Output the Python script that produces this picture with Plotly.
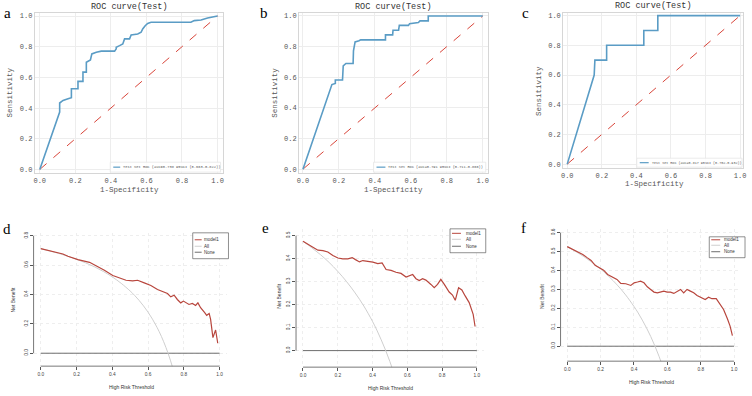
import plotly.graph_objects as go

# ---------------- data ----------------
tick_vals = [0.0, 0.2, 0.4, 0.6, 0.8, 1.0]
tick_text = ["0.0", "0.2", "0.4", "0.6", "0.8", "1.0"]

roc_a_fpr = [0, 0.112, 0.112, 0.131, 0.159, 0.178, 0.178, 0.215, 0.215, 0.243,
             0.243, 0.262, 0.262, 0.280, 0.285, 0.293, 0.318, 0.346, 0.421, 0.430,
             0.430, 0.449, 0.467, 0.477, 0.505, 0.514, 0.551, 0.570, 0.579, 0.593,
             0.607, 0.626, 0.850, 0.869, 0.907, 0.944, 0.972, 1.0]
roc_a_tpr = [0, 0.374, 0.433, 0.450, 0.461, 0.468, 0.526, 0.526, 0.574, 0.574,
             0.634, 0.634, 0.699, 0.714, 0.714, 0.753, 0.764, 0.771, 0.771, 0.786,
             0.797, 0.807, 0.818, 0.851, 0.851, 0.877, 0.883, 0.894, 0.916, 0.937,
             0.952, 0.959, 0.959, 0.970, 0.974, 0.987, 0.996, 1.0]
roc_b_fpr = [0, 0.156, 0.161, 0.180, 0.180, 0.220, 0.224, 0.239, 0.279, 0.281,
             0.290, 0.312, 0.321, 0.459, 0.459, 0.499, 0.501, 0.532, 0.536, 0.587,
             0.593, 0.642, 0.651, 0.697, 0.697, 1.0]
roc_b_tpr = [0, 0.535, 0.552, 0.560, 0.582, 0.582, 0.675, 0.690, 0.690, 0.773,
             0.831, 0.838, 0.844, 0.844, 0.877, 0.877, 0.907, 0.907, 0.939, 0.939,
             0.950, 0.957, 0.968, 0.968, 1.0, 1.0]
roc_c_fpr = [0, 0.156, 0.160, 0.228, 0.228, 0.443, 0.443, 0.524, 0.524, 1.0]
roc_c_tpr = [0, 0.600, 0.700, 0.700, 0.800, 0.800, 0.900, 0.900, 1.0, 1.0]
diag = [0.0, 1.0]

roc_labels = ["Test Set ROC (auc=0.738 95%CI (0.663-0.822))",
              "Test Set ROC (auc=0.791 95%CI (0.711-0.866))",
              "Test Set ROC (auc=0.817 95%CI (0.702-0.932))"]

d_thr = [0, 0.059, 0.124, 0.152, 0.208, 0.273, 0.319, 0.356, 0.403, 0.440,
         0.477, 0.514, 0.542, 0.579, 0.616, 0.653, 0.681, 0.709, 0.727, 0.746,
         0.764, 0.783, 0.798, 0.811, 0.829, 0.848, 0.866, 0.879, 0.894, 0.917,
         0.928, 0.942, 0.950, 0.963, 0.978, 0.99]
d_model = [0.712, 0.694, 0.676, 0.660, 0.637, 0.619, 0.592, 0.565, 0.529, 0.513,
           0.497, 0.493, 0.497, 0.479, 0.461, 0.434, 0.420, 0.407, 0.384, 0.395,
           0.366, 0.343, 0.355, 0.343, 0.332, 0.339, 0.325, 0.343, 0.310, 0.276,
           0.258, 0.271, 0.230, 0.106, 0.158, 0.068]
d_all_thr = [0, 0.05, 0.1, 0.15, 0.2, 0.25, 0.3, 0.35, 0.4, 0.45, 0.5, 0.525,
             0.55, 0.575, 0.6, 0.625, 0.65, 0.675, 0.7, 0.725, 0.75]
d_all = [0.712, 0.697, 0.680, 0.661, 0.640, 0.616, 0.589, 0.557, 0.520, 0.476,
         0.424, 0.394, 0.360, 0.322, 0.280, 0.232, 0.177, 0.114, 0.040, -0.047, -0.152]

e_thr = [0, 0.029, 0.057, 0.086, 0.115, 0.143, 0.172, 0.201, 0.229, 0.258,
         0.283, 0.302, 0.325, 0.344, 0.373, 0.402, 0.430, 0.455, 0.478, 0.507,
         0.535, 0.564, 0.593, 0.612, 0.631, 0.650, 0.669, 0.688, 0.707, 0.736,
         0.755, 0.774, 0.793, 0.813, 0.841, 0.860, 0.876, 0.895, 0.914, 0.933,
         0.956, 0.979, 0.99]
e_model = [0.476, 0.461, 0.450, 0.437, 0.435, 0.429, 0.414, 0.403, 0.399, 0.399,
           0.405, 0.396, 0.386, 0.392, 0.389, 0.385, 0.379, 0.382, 0.353, 0.349,
           0.341, 0.336, 0.320, 0.324, 0.331, 0.313, 0.305, 0.313, 0.307, 0.288,
           0.274, 0.288, 0.310, 0.288, 0.255, 0.242, 0.219, 0.274, 0.264, 0.238,
           0.209, 0.158, 0.105]
e_all_thr = [0, 0.05, 0.1, 0.15, 0.2, 0.25, 0.3, 0.35, 0.4, 0.425, 0.45, 0.475, 0.5, 0.525]
e_all = [0.476, 0.448, 0.418, 0.384, 0.345, 0.301, 0.251, 0.194, 0.127, 0.089,
         0.047, 0.002, -0.048, -0.103]

f_thr = [0, 0.034, 0.063, 0.093, 0.119, 0.143, 0.167, 0.192, 0.218, 0.242,
         0.272, 0.298, 0.321, 0.351, 0.381, 0.401, 0.421, 0.440, 0.460, 0.480,
         0.500, 0.520, 0.540, 0.560, 0.579, 0.599, 0.619, 0.639, 0.659, 0.679,
         0.698, 0.718, 0.738, 0.758, 0.778, 0.808, 0.827, 0.847, 0.867, 0.893,
         0.917, 0.937, 0.960, 0.976, 0.99]
f_model = [0.526, 0.512, 0.498, 0.485, 0.468, 0.453, 0.427, 0.415, 0.402, 0.379,
           0.365, 0.353, 0.332, 0.330, 0.321, 0.335, 0.339, 0.344, 0.335, 0.314,
           0.300, 0.286, 0.282, 0.286, 0.291, 0.286, 0.286, 0.279, 0.291, 0.300,
           0.282, 0.300, 0.291, 0.282, 0.268, 0.256, 0.247, 0.259, 0.251, 0.251,
           0.221, 0.194, 0.145, 0.106, 0.056]
f_all_thr = [0, 0.05, 0.1, 0.15, 0.2, 0.25, 0.3, 0.35, 0.4, 0.425, 0.45, 0.475,
             0.5, 0.525, 0.55, 0.575]
f_all = [0.526, 0.501, 0.473, 0.442, 0.408, 0.368, 0.323, 0.271, 0.210, 0.176,
         0.138, 0.097, 0.052, 0.002, -0.053, -0.115]

none_thr = [0.0, 1.0]
none_nb = [0.0, 0.0]

dca_names = ["model1", "All", "None"]
d_yticks = [0.0, 0.2, 0.4, 0.6, 0.8]
e_yticks = [0.0, 0.1, 0.2, 0.3, 0.4, 0.5]
f_yticks = [0.0, 0.1, 0.2, 0.3, 0.4, 0.5, 0.6]

# ---------------- style ----------------
W, H = 752, 396
MONO = "Liberation Mono"
SANS = "Liberation Sans"
SERIF = "Liberation Serif"
ROC_BLUE = "#5a9cc5"
DIAG_RED = "#d9453a"
MODEL_RED = "#b8463d"
ALL_GRAY = "#cfcfcf"
NONE_GRAY = "#6e6e6e"


def fx(p):
    return p / W


def fy(p):
    return 1 - p / H


fig = go.Figure()

# ---------------- ROC panels ----------------
roc_panels = [
    dict(fpr=roc_a_fpr, tpr=roc_a_tpr, ax="", x=(33, 222), y=(12, 173),
         xr=[-0.028, 1.028], yr=[-0.024, 1.02],
         leg=dict(box=(109, 220, 162, 172), ly=167, line=(112, 119), tx=121, size=3.7)),
    dict(fpr=roc_b_fpr, tpr=roc_b_tpr, ax="2", x=(299, 489), y=(12, 173),
         xr=[-0.022, 1.028], yr=[-0.026, 1.02],
         leg=dict(box=(374, 487, 162, 172), ly=167, line=(377, 386), tx=388, size=3.6)),
    dict(fpr=roc_c_fpr, tpr=roc_c_tpr, ax="3", x=(565, 746), y=(12, 168),
         xr=[-0.023, 1.017], yr=[-0.027, 1.018],
         leg=dict(box=(639, 745, 158, 167), ly=162.5, line=(642, 651), tx=653, size=3.4)),
]

for i, p in enumerate(roc_panels):
    xa = "x" + p["ax"]
    ya = "y" + p["ax"]
    fig.add_trace(go.Scatter(x=diag, y=diag, mode="lines", xaxis=xa, yaxis=ya,
                             line=dict(color=DIAG_RED, width=1, dash="dash"),
                             showlegend=False, hoverinfo="skip"))
    fig.add_trace(go.Scatter(x=p["fpr"], y=p["tpr"], mode="lines", xaxis=xa, yaxis=ya,
                             name=roc_labels[i], showlegend=False,
                             line=dict(color=ROC_BLUE, width=1.6)))
    common = dict(showgrid=True, gridcolor="#ededed", gridwidth=1, zeroline=False,
                  showline=True, linecolor="#d6d6d6", linewidth=1, mirror=True,
                  ticks="", tickvals=tick_vals, ticktext=tick_text,
                  tickfont=dict(family=MONO, size=7, color="#555555"))
    fig.update_layout(**{
        "xaxis" + p["ax"]: dict(domain=[fx(p["x"][0]), fx(p["x"][1])], range=p["xr"],
                                anchor=ya, ticklabeloverflow="allow", **common),
        "yaxis" + p["ax"]: dict(domain=[fy(p["y"][1]), fy(p["y"][0])], range=p["yr"],
                                anchor=xa, **common),
    })
    # matplotlib-style legend (lower right)
    lg = p["leg"]
    bx0, bx1, by0, by1 = lg["box"]
    fig.add_shape(type="rect", xref="paper", yref="paper", x0=fx(bx0), x1=fx(bx1),
                  y0=fy(by1), y1=fy(by0), line=dict(color="#e6e6e6", width=0.8),
                  fillcolor="rgba(255,255,255,0.85)")
    fig.add_shape(type="line", xref="paper", yref="paper", x0=fx(lg["line"][0]),
                  x1=fx(lg["line"][1]), y0=fy(lg["ly"]), y1=fy(lg["ly"]),
                  line=dict(color=ROC_BLUE, width=1.2))
    fig.add_annotation(text=roc_labels[i], x=fx(lg["tx"]), y=fy(lg["ly"]), xref="paper",
                       yref="paper", showarrow=False, xanchor="left", yanchor="middle",
                       borderpad=0, font=dict(family=MONO, size=lg["size"], color="#555555"))

roc_text = [
    # titles
    ("ROC curve(Test)", 128, 6, 0, 8.5, MONO, "#333333"),
    ("ROC curve(Test)", 394, 6, 0, 8.5, MONO, "#333333"),
    ("ROC curve(Test)", 656, 5, 0, 8.5, MONO, "#333333"),
    ("1-Specificity", 128, 190, 0, 7.5, MONO, "#555555"),
    ("1-Specificity", 394, 190, 0, 7.5, MONO, "#555555"),
    ("1-Specificity", 657, 184, 0, 7.5, MONO, "#555555"),
    ("Sensitivity", 8, 92, -90, 7.5, MONO, "#555555"),
    ("Sensitivity", 274, 92, -90, 7.5, MONO, "#555555"),
    ("Sensitivity", 540, 90, -90, 7.5, MONO, "#555555"),
    # panel letters
    ("a", 6, 12, 0, 15, SERIF, "#000000"),
    ("b", 264, 12, 0, 15, SERIF, "#000000"),
    ("c", 527, 12, 0, 15, SERIF, "#000000"),
    ("d", 5, 229, 0, 15, SERIF, "#000000"),
    ("e", 265, 228, 0, 15, SERIF, "#000000"),
    ("f", 525, 228, 0, 15, SERIF, "#000000"),
    # DCA axis titles
    ("High Risk Threshold", 130, 388, 0, 5, SANS, "#333333"),
    ("High Risk Threshold", 391, 389, 0, 5, SANS, "#333333"),
    ("High Risk Threshold", 654, 383, 0, 5, SANS, "#333333"),
    ("Net Benefit", 12, 300, -90, 5, SANS, "#333333"),
    ("Net Benefit", 278, 297, -90, 5, SANS, "#333333"),
    ("Net Benefit", 543, 297, -90, 5, SANS, "#333333"),
]
for t, x, y, ang, size, fam, col in roc_text:
    fig.add_annotation(text=t, x=fx(x), y=fy(y), xref="paper", yref="paper",
                       showarrow=False, textangle=ang, xanchor="center", yanchor="middle",
                       borderpad=0, font=dict(family=fam, size=size, color=col))

# ---------------- DCA panels ----------------
dca_panels = [
    dict(thr=d_thr, model=d_model, athr=d_all_thr, all=d_all, ax="4",
         x=(31.8, 226.2), y=(233, 367), yr=[-0.088, 0.82], yt=d_yticks,
         box=(192, 228, 233, 259), rows=(240, 246.5, 252.5), line=(194, 201), tx=202),
    dict(thr=e_thr, model=e_model, athr=e_all_thr, all=e_all, ax="5",
         x=(296, 485), y=(229, 368), yr=[-0.072, 0.53], yt=e_yticks,
         box=(451, 487, 229, 253), rows=(233.5, 239.5, 246.5), line=(453, 462), tx=466),
    dict(thr=f_thr, model=f_model, athr=f_all_thr, all=f_all, ax="6",
         x=(562.3, 743.7), y=(229, 362), yr=[-0.079, 0.62], yt=f_yticks,
         box=(712, 748, 237, 258), rows=(240, 245.5, 252), line=(714, 723), tx=726),
]

for p in dca_panels:
    xa = "x" + p["ax"]
    ya = "y" + p["ax"]
    fig.add_trace(go.Scatter(x=none_thr, y=none_nb, mode="lines", xaxis=xa, yaxis=ya,
                             name=dca_names[2], showlegend=False,
                             line=dict(color=NONE_GRAY, width=1)))
    fig.add_trace(go.Scatter(x=p["athr"], y=p["all"], mode="lines", xaxis=xa, yaxis=ya,
                             name=dca_names[1], showlegend=False,
                             line=dict(color=ALL_GRAY, width=1, shape="spline")))
    fig.add_trace(go.Scatter(x=p["thr"], y=p["model"], mode="lines", xaxis=xa, yaxis=ya,
                             name=dca_names[0], showlegend=False,
                             line=dict(color=MODEL_RED, width=1.2)))
    fig.update_layout(**{
        "xaxis" + p["ax"]: dict(domain=[fx(p["x"][0]), fx(p["x"][1])], range=[-0.04, 1.04],
                                anchor=ya, showgrid=True, gridcolor="#eeeeee", gridwidth=0.6,
                                griddash="dot", zeroline=False, showline=False,
                                ticks="outside", ticklen=3, tickwidth=0.8, tickcolor="#555555",
                                tickvals=tick_vals, ticktext=tick_text,
                                tickfont=dict(family=SANS, size=4.8, color="#444444")),
        "yaxis" + p["ax"]: dict(domain=[fy(p["y"][1]), fy(p["y"][0])], range=p["yr"],
                                anchor=xa, showgrid=True, gridcolor="#eeeeee", gridwidth=0.6,
                                griddash="dot", zeroline=False, showline=False,
                                ticks="outside", ticklen=3, tickwidth=0.8, tickcolor="#555555",
                                tickvals=p["yt"], ticktext=["%.1f" % v for v in p["yt"]],
                                tickangle=-90,
                                tickfont=dict(family=SANS, size=4.8, color="#444444")),
    })
    # R-style axis lines spanning first to last tick
    fig.add_shape(type="line", xref=xa, yref=ya + " domain", x0=0, x1=1, y0=0, y1=0,
                  line=dict(color="#555555", width=0.8))
    fig.add_shape(type="line", xref=xa + " domain", yref=ya, x0=0, x1=0,
                  y0=p["yt"][0], y1=p["yt"][-1], line=dict(color="#555555", width=0.8))
    # legend box
    bx0, bx1, by0, by1 = p["box"]
    fig.add_shape(type="rect", xref="paper", yref="paper", x0=fx(bx0), x1=fx(bx1),
                  y0=fy(by1), y1=fy(by0), line=dict(color="#444444", width=0.6),
                  fillcolor="white")
    for name, col, ry in zip(dca_names, [MODEL_RED, ALL_GRAY, NONE_GRAY], p["rows"]):
        fig.add_shape(type="line", xref="paper", yref="paper", x0=fx(p["line"][0]),
                      x1=fx(p["line"][1]), y0=fy(ry), y1=fy(ry),
                      line=dict(color=col, width=1))
        fig.add_annotation(text=name, x=fx(p["tx"]), y=fy(ry), xref="paper", yref="paper",
                           showarrow=False, xanchor="left", yanchor="middle", borderpad=0,
                           font=dict(family=SANS, size=4.5, color="#333333"))

fig.update_layout(width=W, height=H, margin=dict(l=0, r=0, t=0, b=0),
                  paper_bgcolor="white", plot_bgcolor="white", showlegend=False)

post = ("document.body.style.margin='0px'; document.body.style.overflow='hidden'; "
        "var gd = document.getElementById('{plot_id}'); "
        "return Plotly.newPlot(gd, gd.data, gd.layout, gd._context);")

fig.write_html("out.html", config={"displayModeBar": False}, post_script=post)
